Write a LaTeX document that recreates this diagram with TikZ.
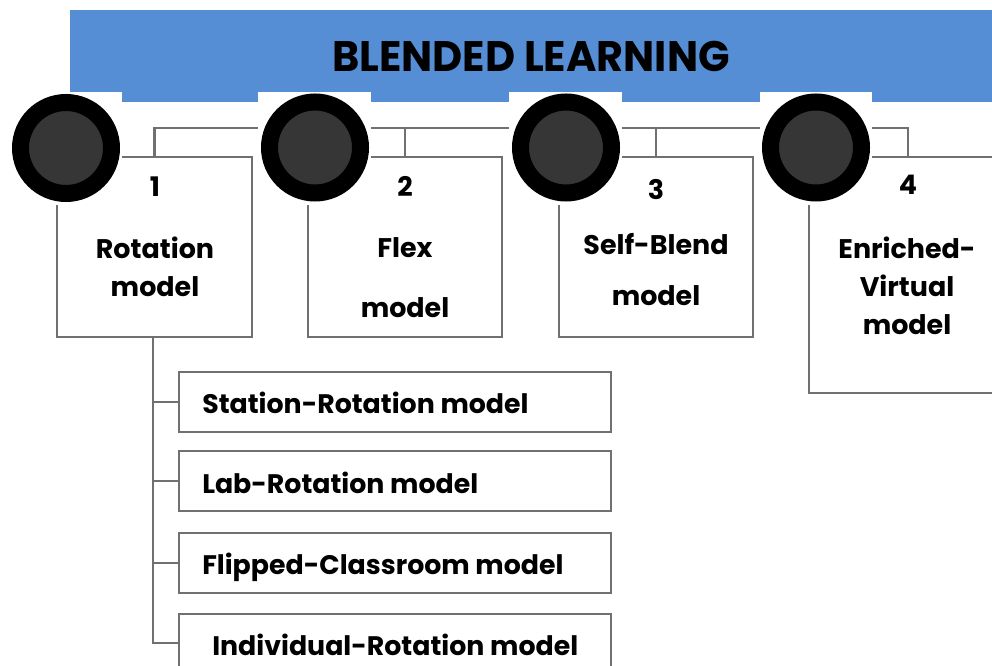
\documentclass[tikz,border=0pt]{standalone}
\usepackage{fontspec}
\setmainfont{Poppins}
\usetikzlibrary{fit}
\definecolor{blueband}{RGB}{85,142,213}
\definecolor{linegray}{RGB}{112,112,112}
\definecolor{dotgray}{RGB}{54,54,54}
\begin{document}
\begin{tikzpicture}[x=0.75pt,y=-0.75pt,
  box/.style={draw=linegray, line width=2pt, inner sep=0pt, fill=white},
  conn/.style={draw=linegray, line width=2pt},
  lbl/.style={anchor=base, inner sep=0pt, font=\bfseries\fontsize{20.2}{24}\selectfont},
  sublbl/.style={anchor=base west, inner sep=0pt, font=\bfseries\fontsize{20.1}{24}\selectfont},
  dot/.style={circle, draw=black, line width=12.75pt, fill=dotgray, minimum size=68.25pt, inner sep=0pt},
  mask/.style={fill=white, draw=none, inner sep=0pt}]
\useasboundingbox (0,0) rectangle (992,666);
\clip (0,0) rectangle (992,666);
% banner
\node[fill=blueband, inner sep=0pt, fit={(69.5,10) (1000,102)}] (banner) {};
\node[anchor=base, inner sep=0pt, font=\bfseries\fontsize{32}{36}\selectfont] (title) at (531,72) {\scalebox{0.97}[1]{BLENDED LEARNING}};
% main boxes
\node[box, fit={(57,157) (252,337)}] (b1) {};
\node[box, fit={(308,157) (502,337)}] (b2) {};
\node[box, fit={(559,157) (753,337)}] (b3) {};
\node[box, fit={(809,157) (1007,393)}] (b4) {};
% sub boxes
\node[box, fit={(179,372) (611,432)}] (s1) {};
\node[box, fit={(179,451) (611,511)}] (s2) {};
\node[box, fit={(179,533) (611,593)}] (s3) {};
\node[box, fit={(179,614) (611,672)}] (s4) {};
% connectors
\coordinate (bus) at (0,128);
\draw[conn] (b1.north) -- (b1.north |- bus) -- (b4.north |- bus) -- (b4.north);
\draw[conn] (b2.north) -- (b2.north |- bus);
\draw[conn] (b3.north) -- (b3.north |- bus);
\coordinate (trunk) at (153,337);
\draw[conn] (trunk) |- (s1.west);
\draw[conn] (trunk) |- (s2.west);
\draw[conn] (trunk) |- (s3.west);
\draw[conn] (trunk) |- (s4.west);
% white squares behind the dots
\node[mask, fit={(0,92) (122,205)}] (m1) {};
\node[mask, fit={(258,92) (371,205)}] (m2) {};
\node[mask, fit={(509,92) (622,205)}] (m3) {};
\node[mask, fit={(760,92) (872,205)}] (m4) {};
% dots
\node[dot] (c1) at (66,148) {};
\node[dot] (c2) at (315,147.5) {};
\node[dot] (c3) at (566,147.5) {};
\node[dot] (c4) at (816,147.5) {};
% box texts
\node[lbl] (n1) at (155,197) {1};
\node[lbl] (t1a) at (155,259) {Rotation};
\node[lbl] (t1b) at (155,297) {model};
\node[lbl] (n2) at (405,197) {2};
\node[lbl] (t2a) at (405,258) {Flex};
\node[lbl] (t2b) at (405,318) {model};
\node[lbl] (n3) at (656,200) {3};
\node[lbl] (t3a) at (656,255) {Self-Blend};
\node[lbl] (t3b) at (656,306) {model};
\node[lbl] (n4) at (908,195) {4};
\node[lbl] (t4a) at (907,259) {Enriched-};
\node[lbl] (t4b) at (907,297) {Virtual};
\node[lbl] (t4c) at (907,335) {model};
% sub texts
\node[sublbl] (u1) at (202,413) {Station-Rotation model};
\node[sublbl] (u2) at (202,493) {Lab-Rotation model};
\node[sublbl] (u3) at (202,574) {Flipped-Classroom model};
\node[sublbl] (u4) at (212,655) {Individual-Rotation model};
\end{tikzpicture}
\end{document}
